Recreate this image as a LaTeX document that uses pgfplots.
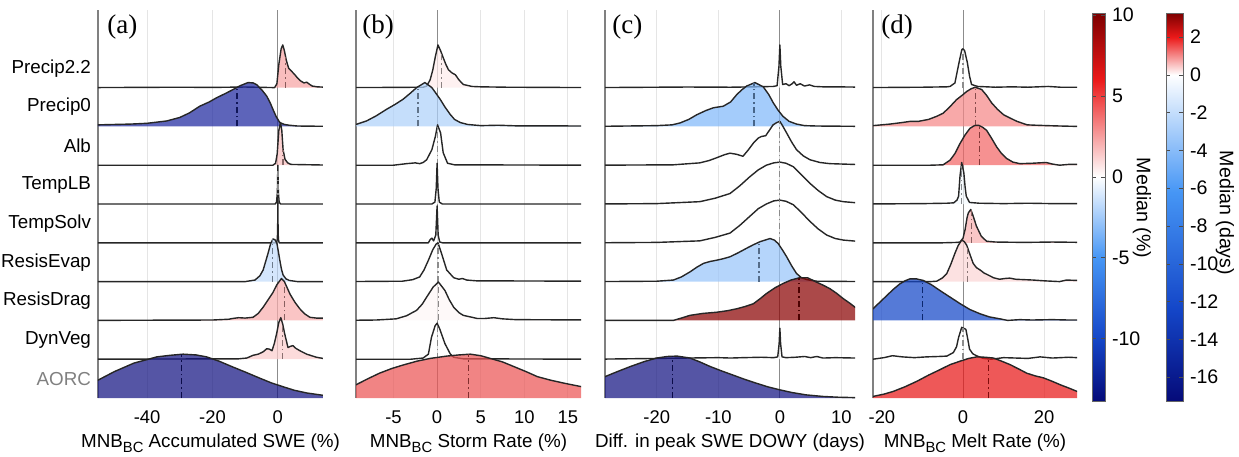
\documentclass[border=0pt]{standalone}
\usepackage{fontspec}
\setmainfont{Liberation Sans}
\newfontfamily\panelfont{Liberation Serif}
\usepackage{pgfplots}
\pgfplotsset{compat=1.18}

\newcommand\tickfont{\fontsize{9.2}{10}\selectfont}
\newcommand\labfont{\fontsize{9.4}{11}\selectfont}
\newcommand\cbfont{\fontsize{9.8}{11}\selectfont}
\newcommand\panfont{\panelfont\fontsize{13.5}{14}\selectfont}
\newcommand\BC{\raisebox{-0.55ex}{\fontsize{7.4}{8}\selectfont BC}}

\definecolor{navy}{RGB}{20,20,130}
\definecolor{wh}{RGB}{255,255,255}
\definecolor{a8}{RGB}{247,163,163}
\definecolor{a7}{RGB}{30,40,160}
\definecolor{a6}{RGB}{249,191,191}
\definecolor{a3}{RGB}{196,221,251}
\definecolor{a2}{RGB}{248,174,174}
\definecolor{a1}{RGB}{251,205,205}
\definecolor{b8}{RGB}{253,236,236}
\definecolor{b7}{RGB}{174,209,250}
\definecolor{b2}{RGB}{253,247,247}
\definecolor{b0}{RGB}{235,85,85}
\definecolor{c7}{RGB}{129,184,249}
\definecolor{c3}{RGB}{153,197,250}
\definecolor{c2}{RGB}{139,3,3}
\definecolor{d7}{RGB}{245,136,136}
\definecolor{d6}{RGB}{242,102,102}
\definecolor{d5}{RGB}{244,250,254}
\definecolor{d4}{RGB}{248,178,178}
\definecolor{d3}{RGB}{251,214,214}
\definecolor{d2}{RGB}{20,70,200}
\definecolor{d0}{RGB}{232,23,23}

\newcommand\ridge[3]{\addplot[draw=black!85, line width=0.7pt, line join=round, fill=#1, fill opacity=0.72] table[x=x, y expr=\thisrow{h}+#2, row sep=\\] {#3};}
\newcommand\med[4]{\addplot[draw=#1!55!black, line width=0.6pt, dash pattern=on 3pt off 1.5pt on 0.8pt off 1.5pt] table[x=x, y expr=\thisrow{h}+#2, row sep=\\] {x h\\ #3 0\\ #3 #4\\};}

\pgfplotsset{
  ridge/.style={
    scale only axis, height=194pt, anchor=south west,
    ymin=0, ymax=10,
    axis lines*=left,
    x axis line style={draw=none},
    y axis line style={draw=black!50, line width=0.6pt},
    ytick=\empty,
    xmajorgrids, grid style={black!10, line width=0.5pt},
    extra x ticks={0}, extra x tick labels={},
    extra x tick style={grid style={black!45, line width=0.5pt}},
    major tick length=0pt,
    tick label style={font=\tickfont},
    xticklabel style={yshift=-3pt},
    /pgf/number format/assume math mode=true,
    xlabel style={font=\labfont, yshift=2pt},
  },
}

\begin{document}
\begin{tikzpicture}
\path[use as bounding box] (0,0) rectangle (619.5pt,228pt);

% ---------------- (a)
\begin{axis}[ridge, at={(49pt,29pt)}, width=112.5pt, xmin=-55, xmax=13.8, xtick={-40,-20,0},
  ytick={0.5,1.5,...,8.5},
  yticklabels={\textcolor{black!50}{AORC},DynVeg,ResisDrag,ResisEvap,TempSolv,TempLB,Alb,Precip0,Precip2.2},
  yticklabel style={font=\labfont},
  xlabel={MNB\BC\ Accumulated SWE (\%)}]
\ridge{a8}{8}{x h\\ -58 0\\ -30 0.01\\ -20 0.005\\ -10 0.015\\ -1 0\\ -0.3 0.1\\ 0.3 0.6\\ 1 1.0\\ 1.5 1.1\\ 2 0.95\\ 2.6 0.7\\ 3.3 0.5\\ 4.2 0.42\\ 5 0.35\\ 6 0.25\\ 7 0.17\\ 8 0.12\\ 8.8 0.14\\ 9.6 0.09\\ 10.5 0.04\\ 12 0.02\\ 17 0\\}
\med{a8}{8}{2.4}{0.78}
\ridge{a7}{7}{x h\\ -58 0\\ -58 0.03\\ -55 0.04\\ -50 0.05\\ -45 0.06\\ -40 0.08\\ -34 0.14\\ -30 0.23\\ -27 0.35\\ -23.9 0.52\\ -21 0.63\\ -18.7 0.74\\ -16 0.85\\ -13.7 0.95\\ -11.5 1.05\\ -9.1 1.13\\ -7.5 1.12\\ -6.4 1.07\\ -4.8 0.93\\ -3.4 0.78\\ -2.3 0.6\\ -1.5 0.44\\ -0.5 0.25\\ 0.6 0.1\\ 2 0.05\\ 3.5 0.03\\ 6 0.01\\ 17 0\\}
\med{a7}{7}{-12.5}{1.0}
\ridge{a6}{6}{x h\\ -58 0\\ -1.5 0\\ -0.7 0.05\\ -0.2 0.3\\ 0.3 0.9\\ 0.8 1.1\\ 1.2 0.9\\ 1.6 0.4\\ 2.2 0.15\\ 3 0.06\\ 4 0.02\\ 17 0\\}
\med{a6}{6}{1.6}{0.4}
\ridge{wh}{5}{x h\\ -58 0\\ -0.8 0\\ -0.4 0.05\\ -0.15 0.3\\ 0 1.0\\ 0.15 0.3\\ 0.4 0.05\\ 0.8 0\\ 17 0\\}
\med{wh}{5}{0.05}{0.85}
\ridge{wh}{4}{x h\\ -58 0\\ -0.4 0\\ -0.15 0.1\\ -0.05 0.5\\ 0 1.2\\ 0.05 0.5\\ 0.15 0.1\\ 0.4 0\\ 17 0\\}
\ridge{a3}{3}{x h\\ -58 0\\ -10 0\\ -7 0.04\\ -5.5 0.15\\ -4.5 0.3\\ -3.8 0.5\\ -3 0.73\\ -2.2 0.98\\ -1.5 1.1\\ -0.9 1.08\\ -0.3 0.99\\ 0.1 0.8\\ 0.6 0.55\\ 1.1 0.32\\ 1.6 0.17\\ 2.5 0.07\\ 3.5 0.03\\ 6 0\\ 17 0\\}
\med{a3}{3}{-1.6}{1.1}
\ridge{a2}{2}{x h\\ -58 0\\ -20 0.01\\ -15 0.03\\ -13.8 0.05\\ -12 0.07\\ -10 0.06\\ -7.6 0.08\\ -6 0.18\\ -4.5 0.34\\ -3 0.53\\ -1.5 0.72\\ -0.3 0.92\\ 1.1 1.08\\ 2 1.0\\ 3.7 0.68\\ 5.2 0.47\\ 6.7 0.3\\ 8.2 0.17\\ 9.8 0.08\\ 11.8 0.06\\ 13.8 0.06\\ 17 0.06\\ 17 0\\}
\med{a2}{2}{2.1}{1.0}
\ridge{a1}{1}{x h\\ -58 0\\ -12 0.01\\ -9.5 0.03\\ -7.6 0.1\\ -6 0.13\\ -4.5 0.19\\ -3.4 0.27\\ -2.6 0.26\\ -1.8 0.22\\ -1.1 0.4\\ -0.4 0.65\\ 0.3 0.95\\ 0.9 1.07\\ 1.5 0.9\\ 2.1 0.65\\ 3.1 0.3\\ 3.8 0.33\\ 4.6 0.35\\ 5.5 0.28\\ 6.7 0.22\\ 8.8 0.13\\ 11.8 0.05\\ 13.8 0.02\\ 17 0.02\\ 17 0\\}
\med{a1}{1}{1.3}{0.92}
\ridge{navy}{0}{x h\\ -58 0\\ -58 0.38\\ -55 0.46\\ -50 0.68\\ -44 0.9\\ -40 0.99\\ -37 1.06\\ -33 1.1\\ -29 1.13\\ -25 1.11\\ -21.8 1.06\\ -18 0.95\\ -13.8 0.8\\ -10 0.67\\ -5.5 0.51\\ -2 0.39\\ 1.6 0.29\\ 5 0.2\\ 8.8 0.13\\ 13.8 0.07\\ 17 0.05\\ 17 0\\}
\med{navy}{0}{-29.5}{1.13}
\node[anchor=west, inner sep=0pt, font=\panfont] at (rel axis cs:0.04,0.955) {(a)};
\end{axis}

% ---------------- (b)
\begin{axis}[ridge, at={(178pt,29pt)}, width=112.5pt, xmin=-9.3, xmax=16.5, xtick={-5,0,5,10,15},
  xlabel={MNB\BC\ Storm Rate (\%)}]
\ridge{b8}{8}{x h\\ -11 0\\ -5 0.005\\ -1.6 0.01\\ -1.2 0.04\\ -0.8 0.2\\ -0.5 0.45\\ -0.2 0.8\\ 0.1 1.1\\ 0.4 0.95\\ 0.7 0.77\\ 1.0 0.6\\ 1.3 0.46\\ 1.7 0.38\\ 2.1 0.33\\ 2.5 0.2\\ 3 0.08\\ 4 0.03\\ 5 0.02\\ 8 0.01\\ 18 0\\}
\med{b8}{8}{0.5}{0.88}
\ridge{b7}{7}{x h\\ -11 0\\ -11 0.03\\ -9.3 0.05\\ -8.1 0.14\\ -7 0.27\\ -5.8 0.44\\ -4.8 0.57\\ -3.9 0.7\\ -3.1 0.85\\ -2.35 1.0\\ -1.4 1.13\\ -0.6 1.0\\ 0.35 0.7\\ 0.9 0.5\\ 1.5 0.31\\ 2 0.18\\ 2.65 0.1\\ 3.5 0.05\\ 5 0.02\\ 7 0.03\\ 9 0.015\\ 18 0.01\\ 18 0\\}
\med{b7}{7}{-2.2}{1.03}
\ridge{wh}{6}{x h\\ -11 0\\ -5 0\\ -3.5 0.04\\ -2.5 0.06\\ -2 0.04\\ -1.6 0.07\\ -1.2 0.14\\ -0.6 0.4\\ -0.2 0.74\\ 0.05 1.04\\ 0.4 0.83\\ 0.7 0.32\\ 1.2 0.05\\ 2 0.01\\ 18 0\\}
\med{wh}{6}{0}{1.0}
\ridge{wh}{5}{x h\\ -11 0\\ -0.6 0\\ -0.25 0.05\\ -0.1 0.4\\ 0 1.05\\ 0.1 0.4\\ 0.25 0.05\\ 0.6 0\\ 18 0\\}
\ridge{wh}{4}{x h\\ -11 0\\ -1 0\\ -0.8 0.08\\ -0.6 0.12\\ -0.4 0.05\\ -0.15 0.2\\ 0 0.95\\ 0.12 0.2\\ 0.3 0.02\\ 0.6 0\\ 18 0\\}
\ridge{wh}{3}{x h\\ -11 0\\ -4 0.01\\ -2.8 0.05\\ -2 0.12\\ -1.5 0.3\\ -1 0.55\\ -0.5 0.82\\ -0.1 0.97\\ 0.1 1.0\\ 0.5 0.73\\ 1.1 0.3\\ 1.9 0.1\\ 2.5 0.06\\ 2.9 0.08\\ 3.4 0.04\\ 4.5 0.02\\ 18 0.01\\ 18 0\\}
\med{wh}{3}{0.1}{1.0}
\ridge{b2}{2}{x h\\ -11 0\\ -7 0.01\\ -4.7 0.04\\ -3.5 0.12\\ -2.35 0.26\\ -1.7 0.42\\ -1.2 0.6\\ -0.45 0.86\\ 0.15 0.99\\ 0.9 0.77\\ 1.4 0.53\\ 1.9 0.34\\ 2.5 0.2\\ 3 0.13\\ 4.6 0.05\\ 5.5 0.05\\ 6.5 0.07\\ 7.5 0.04\\ 9 0.02\\ 18 0.01\\ 18 0\\}
\med{b2}{2}{0.2}{0.98}
\ridge{wh}{1}{x h\\ -11 0\\ -3 0\\ -1.6 0.03\\ -1.0 0.13\\ -0.65 0.56\\ -0.23 0.86\\ 0 0.93\\ 0.3 0.78\\ 0.9 0.4\\ 1.5 0.14\\ 1.9 0.05\\ 3 0.01\\ 18 0\\}
\med{wh}{1}{0}{0.93}
\ridge{b0}{0}{x h\\ -11 0\\ -11 0.26\\ -9.3 0.34\\ -8 0.49\\ -6.6 0.64\\ -5.2 0.76\\ -3.9 0.85\\ -2.3 0.95\\ -0.8 1.02\\ 1.1 1.08\\ 2.5 1.11\\ 3.8 1.13\\ 5 1.09\\ 6.1 1.02\\ 7.5 0.93\\ 8.8 0.81\\ 10.2 0.68\\ 11.5 0.55\\ 13 0.46\\ 14.6 0.38\\ 16.6 0.29\\ 18 0.25\\ 18 0\\}
\med{b0}{0}{3.6}{1.13}
\node[anchor=west, inner sep=0pt, font=\panfont] at (rel axis cs:0.027,0.955) {(b)};
\end{axis}

% ---------------- (c)
\begin{axis}[ridge, at={(302.5pt,29pt)}, width=125pt, xmin=-28.4, xmax=12.2, xtick={-20,-10,0,10},
  xlabel={Diff. in peak SWE DOWY (days)}]
\ridge{wh}{8}{x h\\ -30 0\\ -20 0.01\\ -15 0.015\\ -8 0.01\\ -4 0.02\\ -1 0.03\\ -0.45 0.05\\ -0.15 0.55\\ 0 1.1\\ 0.15 0.55\\ 0.45 0.08\\ 1 0.1\\ 1.5 0.05\\ 2 0.1\\ 2.3 0.15\\ 2.7 0.06\\ 3.3 0.1\\ 4 0.04\\ 4.8 0.07\\ 5.6 0.03\\ 7 0.02\\ 9 0.02\\ 14 0.01\\ 14 0\\}
\ridge{c7}{7}{x h\\ -30 0\\ -20 0.02\\ -17.5 0.04\\ -16.2 0.09\\ -14.8 0.18\\ -13.5 0.3\\ -12 0.41\\ -10.8 0.48\\ -9.2 0.52\\ -8 0.63\\ -7 0.82\\ -6.2 0.94\\ -5.4 1.04\\ -4.05 1.13\\ -2.7 1.02\\ -1.8 0.82\\ -1.08 0.61\\ -0.3 0.42\\ 0.5 0.26\\ 1.5 0.13\\ 2.7 0.06\\ 4 0.02\\ 6 0.01\\ 14 0\\}
\med{c7}{7}{-4.2}{1.12}
\ridge{wh}{6}{x h\\ -30 0\\ -17.3 0.01\\ -13 0.06\\ -11.5 0.12\\ -10.3 0.19\\ -9 0.27\\ -8.1 0.31\\ -7 0.28\\ -6 0.23\\ -5.2 0.38\\ -4.3 0.57\\ -3.5 0.7\\ -3 0.74\\ -2.3 0.76\\ -1.7 0.9\\ -1.1 1.04\\ -0.5 1.1\\ 0 1.13\\ 0.5 1.0\\ 1.1 0.83\\ 1.9 0.6\\ 2.7 0.4\\ 3.8 0.24\\ 4.9 0.14\\ 6.5 0.07\\ 8.1 0.04\\ 14 0.01\\ 14 0\\}
\med{wh}{6}{0}{1.13}
\ridge{wh}{5}{x h\\ -30 0\\ -20 0.01\\ -13 0.06\\ -10.5 0.15\\ -8.1 0.27\\ -6.5 0.47\\ -4.9 0.7\\ -3.5 0.88\\ -2.2 1.0\\ -1 1.06\\ 0 1.08\\ 1 1.05\\ 2.2 0.96\\ 3.5 0.75\\ 4.9 0.53\\ 6.2 0.35\\ 7.6 0.19\\ 9 0.1\\ 10.3 0.06\\ 14 0.01\\ 14 0\\}
\med{wh}{5}{0}{1.08}
\ridge{wh}{4}{x h\\ -30 0\\ -20 0.01\\ -13 0.05\\ -10.5 0.14\\ -8.1 0.25\\ -6.5 0.45\\ -4.9 0.68\\ -3.5 0.88\\ -2.2 1.0\\ -1 1.08\\ 0 1.1\\ 1 1.07\\ 2.2 0.98\\ 3.5 0.78\\ 4.9 0.55\\ 6.2 0.36\\ 7.6 0.2\\ 9 0.11\\ 10.3 0.07\\ 14 0.02\\ 14 0\\}
\med{wh}{4}{0}{1.1}
\ridge{c3}{3}{x h\\ -30 0\\ -20 0.01\\ -17.3 0.04\\ -16 0.12\\ -14.6 0.25\\ -13.5 0.37\\ -12.4 0.47\\ -11.3 0.52\\ -10.3 0.55\\ -9.2 0.59\\ -8.1 0.64\\ -6.8 0.74\\ -5.4 0.86\\ -4.3 0.95\\ -3.2 1.03\\ -1.6 1.11\\ -0.9 1.07\\ -0.27 0.98\\ 0.4 0.82\\ 1.1 0.64\\ 1.9 0.41\\ 2.7 0.21\\ 3.5 0.1\\ 4.4 0.05\\ 6 0.01\\ 14 0\\}
\med{c3}{3}{-3.4}{1.02}
\ridge{c2}{2}{x h\\ -30 0\\ -17.3 0\\ -16 0.06\\ -14.6 0.13\\ -12.5 0.18\\ -10.3 0.21\\ -8.5 0.25\\ -7 0.3\\ -5.6 0.36\\ -4.3 0.43\\ -3.2 0.56\\ -2.2 0.69\\ -0.8 0.84\\ 0.5 0.95\\ 1.8 1.04\\ 3.2 1.1\\ 4.5 1.1\\ 5.9 0.99\\ 7 0.91\\ 8.1 0.82\\ 9.2 0.7\\ 10.3 0.56\\ 11.3 0.45\\ 12.2 0.34\\ 14 0.2\\ 14 0\\}
\med{c2}{2}{3.1}{1.1}
\ridge{wh}{1}{x h\\ -30 0\\ -20 0.02\\ -15 0.03\\ -10 0.04\\ -8 0.03\\ -6 0.04\\ -3 0.05\\ -1 0.04\\ -0.35 0.06\\ -0.12 0.4\\ 0 0.8\\ 0.12 0.4\\ 0.35 0.06\\ 1 0.04\\ 2.5 0.05\\ 4 0.07\\ 5 0.04\\ 6 0.07\\ 7 0.03\\ 9 0.04\\ 12.2 0.03\\ 14 0.02\\ 14 0\\}
\ridge{navy}{0}{x h\\ -30 0\\ -30 0.47\\ -28.4 0.55\\ -26.4 0.68\\ -24.3 0.81\\ -22 0.94\\ -20 1.03\\ -18.3 1.07\\ -16.7 1.08\\ -14.6 1.03\\ -13 0.93\\ -11.3 0.81\\ -9.5 0.7\\ -7.6 0.59\\ -5.7 0.48\\ -3.8 0.38\\ -2 0.29\\ 0 0.21\\ 2 0.14\\ 4.3 0.08\\ 7 0.04\\ 9.5 0.02\\ 12.2 0.01\\ 14 0.01\\ 14 0\\}
\med{navy}{0}{-17.4}{1.07}
\node[anchor=west, inner sep=0pt, font=\panfont] at (rel axis cs:0.028,0.955) {(c)};
\end{axis}

% ---------------- (d)
\begin{axis}[ridge, at={(436.5pt,29pt)}, width=102pt, xmin=-22.2, xmax=28.1, xtick={-20,0,20},
  xlabel={MNB\BC\ Melt Rate (\%)}]
\ridge{wh}{8}{x h\\ -24 0\\ -10 0.01\\ -4 0.02\\ -3.2 0.03\\ -2 0.12\\ -1 0.64\\ -0.3 0.98\\ 0 1.0\\ 0.4 0.95\\ 1.07 0.64\\ 1.6 0.3\\ 2.1 0.08\\ 3.6 0.03\\ 8 0.01\\ 12 0.02\\ 16 0.01\\ 21 0.03\\ 24 0.01\\ 30 0.01\\ 30 0\\}
\med{wh}{8}{0}{1.0}
\ridge{d7}{7}{x h\\ -24 0\\ -24 0.02\\ -22.2 0.02\\ -18 0.06\\ -15 0.1\\ -13 0.13\\ -11 0.13\\ -8.5 0.18\\ -6.5 0.26\\ -4.9 0.34\\ -3.3 0.5\\ -1.6 0.69\\ 0 0.82\\ 0.9 0.9\\ 2 0.97\\ 3 1.01\\ 4.6 0.95\\ 5.8 0.8\\ 7.1 0.6\\ 8.5 0.44\\ 10 0.3\\ 11.5 0.22\\ 13.3 0.13\\ 15.8 0.04\\ 18 0.03\\ 20.7 0.02\\ 24 0.01\\ 28.1 0\\ 30 0\\}
\med{d7}{7}{3.1}{1.01}
\ridge{d6}{6}{x h\\ -24 0\\ -8 0\\ -4.9 0.01\\ -3.2 0.13\\ -2 0.3\\ -0.74 0.56\\ 0.5 0.78\\ 1.7 0.95\\ 2.8 1.02\\ 3.8 1.03\\ 4.8 0.98\\ 5.8 0.9\\ 7 0.7\\ 8.3 0.47\\ 9.5 0.3\\ 10.8 0.17\\ 12.3 0.08\\ 14 0.04\\ 17 0.05\\ 20.5 0.07\\ 22 0.03\\ 23.8 0\\ 26 0.02\\ 28.1 0.02\\ 30 0.02\\ 30 0\\}
\med{d6}{6}{4}{1.03}
\ridge{d5}{5}{x h\\ -24 0\\ -10 0.01\\ -4 0.02\\ -2.3 0.03\\ -1.5 0.1\\ -1.1 0.2\\ -0.74 0.73\\ -0.33 1.07\\ 0.2 0.8\\ 0.5 0.45\\ 0.8 0.2\\ 1.6 0.04\\ 4 0.02\\ 10 0.01\\ 16 0.02\\ 22 0.01\\ 30 0.01\\ 30 0\\}
\med{d5}{5}{-0.4}{1.0}
\ridge{d4}{4}{x h\\ -24 0\\ -5 0\\ -1.5 0.01\\ -0.74 0.02\\ 0 0.12\\ 0.5 0.34\\ 1.0 0.65\\ 1.3 0.77\\ 1.9 0.86\\ 2.5 0.69\\ 3.3 0.43\\ 3.9 0.3\\ 4.5 0.17\\ 5.8 0.04\\ 8 0.02\\ 15 0.01\\ 22 0.02\\ 30 0.01\\ 30 0\\}
\med{d4}{4}{2}{0.84}
\ridge{d3}{3}{x h\\ -24 0\\ -8 0\\ -6.5 0.01\\ -5 0.1\\ -4 0.21\\ -3 0.45\\ -2 0.73\\ -1.2 0.93\\ -0.33 1.07\\ 0.3 1.03\\ 0.9 0.94\\ 1.7 0.7\\ 2.5 0.47\\ 3.3 0.36\\ 4.2 0.3\\ 5.2 0.22\\ 6.2 0.17\\ 7.5 0.1\\ 9 0.06\\ 10.3 0.08\\ 11.5 0.09\\ 13 0.06\\ 17.3 0.04\\ 20 0.02\\ 23.8 0\\ 25.5 0.04\\ 28.1 0.03\\ 30 0.03\\ 30 0\\}
\med{d3}{3}{1.1}{0.9}
\ridge{d2}{2}{x h\\ -24 0\\ -24 0.18\\ -22.2 0.3\\ -20.5 0.47\\ -18.8 0.64\\ -17.2 0.8\\ -15.6 0.94\\ -14.3 1.02\\ -13.1 1.07\\ -11.5 1.07\\ -9.8 1.03\\ -7.8 0.92\\ -5.7 0.77\\ -3.2 0.6\\ -0.7 0.43\\ 1.7 0.28\\ 4.2 0.17\\ 6.5 0.09\\ 9.1 0.04\\ 11 0\\ 14 0.02\\ 17 0.01\\ 22 0.02\\ 26 0.01\\ 30 0.01\\ 30 0\\}
\med{d2}{2}{-10}{1.03}
\ridge{wh}{1}{x h\\ -24 0\\ -22.2 0\\ -19.5 0.04\\ -17.4 0.09\\ -15 0.06\\ -12 0.04\\ -9 0.06\\ -6 0.07\\ -4 0.08\\ -2.4 0.17\\ -1.6 0.32\\ -1.1 0.56\\ -0.33 0.82\\ 0.7 0.77\\ 1.2 0.5\\ 1.6 0.26\\ 2.4 0.14\\ 3.3 0.09\\ 5 0.02\\ 7 0\\ 10 0.04\\ 13 0.03\\ 16 0.02\\ 19 0.06\\ 22 0.03\\ 26 0.05\\ 28.1 0.04\\ 30 0.04\\ 30 0\\}
\med{wh}{1}{0}{0.8}
\ridge{d0}{0}{x h\\ -24 0\\ -24 0.02\\ -22.2 0.04\\ -19.5 0.1\\ -17.2 0.17\\ -14.3 0.29\\ -11.4 0.43\\ -8.5 0.59\\ -5.7 0.73\\ -3.2 0.86\\ -0.7 0.95\\ 1.4 1.02\\ 3.4 1.06\\ 5.5 1.05\\ 7.5 1.03\\ 9.5 0.95\\ 11.6 0.86\\ 13.7 0.75\\ 15.7 0.64\\ 17.8 0.57\\ 19.8 0.52\\ 22 0.43\\ 24 0.34\\ 26 0.26\\ 28.1 0.17\\ 30 0.12\\ 30 0\\}
\med{d0}{0}{6.3}{1.04}
\node[anchor=west, inner sep=0pt, font=\panfont] at (rel axis cs:0.039,0.955) {(d)};
\end{axis}

% ---------------- colorbar 1 (percent)
\begin{axis}[at={(546pt,27.15pt)}, anchor=south west, scale only axis, width=6.5pt, height=194.2pt,
  hide axis, xmin=0, xmax=1, ymin=0, ymax=1,
  colormap={pctmap}{rgb255(0)=(5,10,120) rgb255(39)=(20,70,200) rgb255(89)=(70,150,245) rgb255(139)=(255,255,255) rgb255(199)=(235,25,25) rgb255(240)=(125,0,0)},
  point meta min=-13.9, point meta max=10.1,
  colorbar, colorbar shift/.style={},
  colorbar style={at={(parent axis.south west)}, anchor=south west, scale only axis,
    width=6.5pt, height=194.2pt, ytick={-10,-5,0,5,10},
    yticklabel style={font=\cbfont}, /pgf/number format/assume math mode=true,
    ytick align=inside, major tick length=2pt, tick style={black!70},
    axis line style={black!60, line width=0.4pt}}]
\addplot[draw=none] coordinates {(0,0)};
\end{axis}

% ---------------- colorbar 2 (days)
\begin{axis}[at={(583pt,27.15pt)}, anchor=south west, scale only axis, width=8.5pt, height=194.2pt,
  hide axis, xmin=0, xmax=1, ymin=0, ymax=1,
  colormap={daysmap}{rgb255(0)=(5,10,120) rgb255(490)=(20,70,200) rgb255(1110)=(70,150,245) rgb255(1730)=(255,255,255) rgb255(1930)=(235,25,25) rgb255(2056)=(125,0,0)},
  point meta min=-17.3, point meta max=3.26,
  colorbar, colorbar shift/.style={},
  colorbar style={at={(parent axis.south west)}, anchor=south west, scale only axis,
    width=8.5pt, height=194.2pt, ytick={-16,-14,...,2},
    yticklabel style={font=\cbfont}, /pgf/number format/assume math mode=true,
    ytick align=inside, major tick length=2pt, tick style={black!70},
    axis line style={black!60, line width=0.4pt}}]
\addplot[draw=none] coordinates {(0,0)};
\end{axis}

\node[rotate=-90, font=\cbfont] at (571pt,124pt) {Median (\%)};
\node[rotate=-90, font=\cbfont] at (612.5pt,121.5pt) {Median (days)};
\end{tikzpicture}
\end{document}
